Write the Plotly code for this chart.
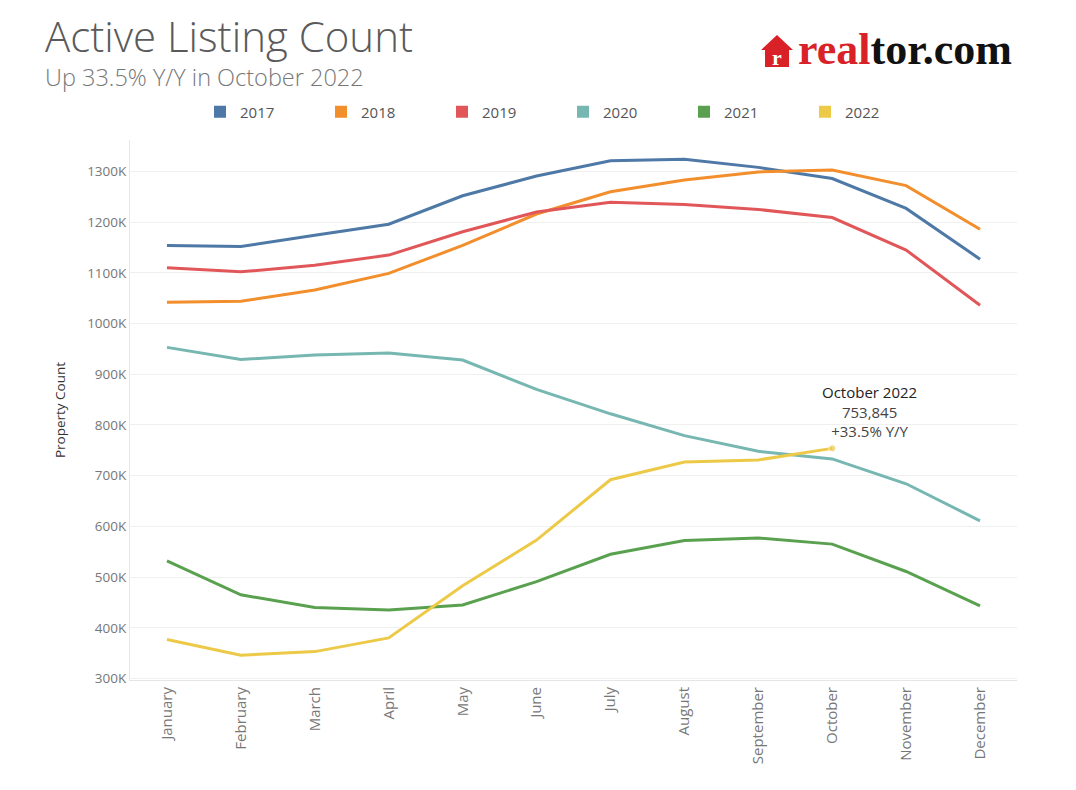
import plotly.graph_objects as go

months = ["January", "February", "March", "April", "May", "June", "July",
          "August", "September", "October", "November", "December"]
years = ["2017", "2018", "2019", "2020", "2021", "2022"]
v2017 = [1154, 1152, 1174, 1196, 1252, 1291, 1321, 1324, 1308, 1286, 1227, 1127]
v2018 = [1042, 1044, 1066, 1099, 1154, 1216, 1260, 1283, 1299, 1303, 1272, 1186]
v2019 = [1110, 1102, 1115, 1135, 1181, 1220, 1239, 1235, 1225, 1209, 1145, 1036]
v2020 = [953, 929, 938, 942, 928, 870, 822, 779, 748, 733, 684, 611]
v2021 = [532, 465, 440, 435, 445, 491, 545, 572, 577, 565, 511, 443]
v2022 = [377, 346, 353, 380, 483, 573, 692, 727, 731, 753.845]
series = [v2017, v2018, v2019, v2020, v2021, v2022]
colors = ["#4e79a7", "#f28e2b", "#e15759", "#76b7b2", "#59a14f", "#edc948"]
ytick_vals = [300, 400, 500, 600, 700, 800, 900, 1000, 1100, 1200, 1300]
ytick_text = [f"{v}K" for v in ytick_vals]

W, H = 1076, 790
OFF = 8  # page body margin
ML, MR, MT, MB = 130 - OFF, 59 + OFF, 140 - OFF, 110 + OFF


def px_x(p):
    return (p - OFF - ML) / (W - ML - MR)


def px_y(p):
    return 1 - (p - OFF - MT) / (H - MT - MB)


fig = go.Figure()
for yr, vals, c in zip(years, series, colors):
    sizes = [0] * (len(vals) - 1) + ([7] if yr == "2022" else [0])
    fig.add_trace(go.Scatter(
        x=months[:len(vals)], y=vals, mode="lines+markers", name=yr,
        line=dict(color=c, width=3), marker=dict(size=sizes, color=c),
        showlegend=False, hoverinfo="skip"))
for yr, c in zip(years, colors):
    fig.add_trace(go.Scatter(
        x=[None], y=[None], mode="markers", name=yr,
        marker=dict(symbol="square", size=14, color=c), showlegend=True))

fig.add_annotation(
    x="October", y=v2022[-1], xref="x", yref="y",
    text="<span style='color:#222'>October 2022</span><br>753,845<br>+33.5% Y/Y",
    showarrow=False, xanchor="center", yanchor="bottom", xshift=37, yshift=5,
    font=dict(family="Open Sans", size=15, color="#444"), align="center")

# title & subtitle
fig.add_annotation(x=px_x(43), y=px_y(36), xref="paper", yref="paper",
                   text="Active Listing Count", showarrow=False,
                   xanchor="left", yanchor="middle",
                   font=dict(family="Open Sans", size=42, color="#5a5a5a", weight=300))
fig.add_annotation(x=px_x(43), y=px_y(77), xref="paper", yref="paper",
                   text="Up 33.5% Y/Y in October 2022", showarrow=False,
                   xanchor="left", yanchor="middle",
                   font=dict(family="Open Sans", size=23.5, color="#777777", weight=300))

# logo
house = [(777, 35), (793, 50), (789, 50), (789, 67), (765, 67), (765, 50), (761, 50)]
path = "M " + " L ".join(f"{px_x(a):.4f},{px_y(b):.4f}" for a, b in house) + " Z"
fig.add_shape(type="path", path=path, xref="paper", yref="paper",
              fillcolor="#d92228", line=dict(width=0))
fig.add_annotation(x=px_x(777), y=px_y(57), xref="paper", yref="paper", text="<b>r</b>",
                   showarrow=False, font=dict(family="Liberation Serif", size=22, color="white"),
                   xanchor="center", yanchor="middle")
fig.add_annotation(x=px_x(796), y=px_y(50), xref="paper", yref="paper",
                   text="<span style='color:#d92228'>real</span><span style='color:#111'>tor.com</span>",
                   showarrow=False, xanchor="left", yanchor="middle",
                   font=dict(family="Liberation Serif", size=44, weight="bold"))

fig.update_layout(
    width=W, height=H, paper_bgcolor="white", plot_bgcolor="white",
    margin=dict(l=ML, r=MR, t=MT, b=MB, autoexpand=False),
    font=dict(family="Open Sans", color="#777777", size=13),
    legend=dict(orientation="h", x=px_x(200), y=px_y(112), xanchor="left", yanchor="middle",
                xref="paper", yref="paper", entrywidth=76, entrywidthmode="pixels",
                itemwidth=30, font=dict(size=15, color="#555555"), itemsizing="constant"),
    xaxis=dict(type="category", categoryorder="array", categoryarray=months,
               range=[-0.5, 11.5], tickangle=-90, showgrid=False, showline=True,
               linecolor="#e6e6e6", ticks="", tickfont=dict(size=15, color="#777777"),
               automargin=False, fixedrange=True),
    yaxis=dict(range=[297, 1362], tickvals=ytick_vals, ticktext=ytick_text,
               showgrid=True, gridcolor="#f0f0f0", zeroline=False, showline=True,
               linecolor="#e6e6e6", ticks="", tickfont=dict(size=13.5, color="#777777"),
               title=dict(text="Property Count", font=dict(size=13.5, color="#333333"), standoff=18),
               automargin=False, fixedrange=True),
)
fig.write_html("out.html")
